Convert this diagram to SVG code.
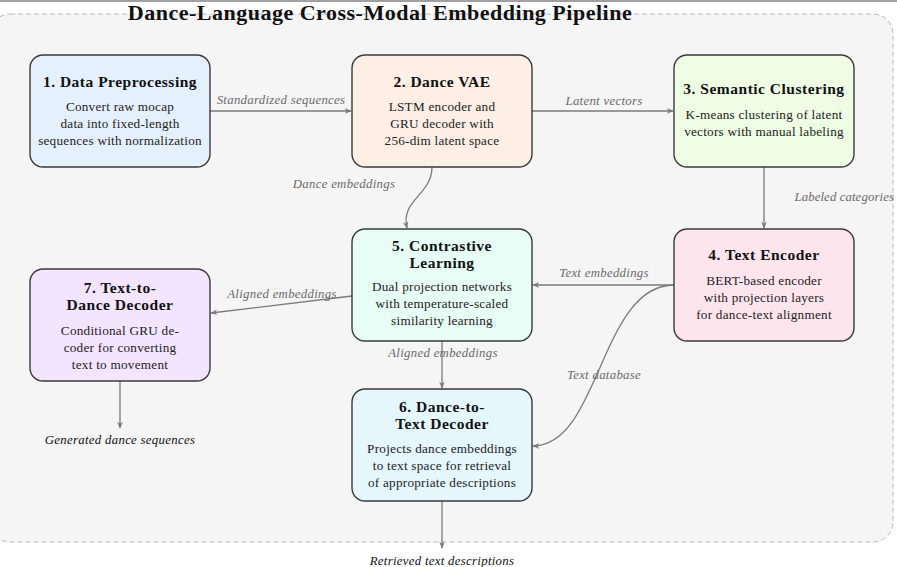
<svg xmlns="http://www.w3.org/2000/svg" width="897" height="567" viewBox="0 0 897 567">
<defs>
<marker id="ah" viewBox="0 0 10 10" refX="9" refY="5" markerWidth="7" markerHeight="7" markerUnits="userSpaceOnUse" orient="auto">
<path d="M0,1 L10,5 L0,9 L3,5 Z" fill="#7a7a7a"/>
</marker>
</defs>
<style>
.node rect{stroke:#3a3a3a;stroke-width:1.4}
.t{font-family:"Liberation Serif",serif;font-weight:bold;font-size:15.5px;letter-spacing:0.5px;fill:#111;text-anchor:middle}
.b{font-family:"Liberation Serif",serif;font-size:13.2px;letter-spacing:0.25px;fill:#222;text-anchor:middle}
.e{fill:none;stroke:#7a7a7a;stroke-width:1.3;marker-end:url(#ah)}
.l{font-family:"Liberation Serif",serif;font-style:italic;font-size:12.8px;letter-spacing:0.3px;fill:#6a6a6a}
.o{font-family:"Liberation Serif",serif;font-style:italic;font-size:12.8px;letter-spacing:0.3px;fill:#111;text-anchor:middle}
</style>
<rect x="0" y="0" width="897" height="567" fill="#ffffff"/>
<line x1="0" y1="1" x2="897" y2="1" stroke="#a0a0a0" stroke-width="2"/>
<rect x="-10" y="14" width="903" height="528" rx="20" fill="#f5f5f5" stroke="#b8b8b8" stroke-width="1" stroke-dasharray="5,3"/>
<text x="380" y="20" font-family="Liberation Serif,serif" font-weight="bold" font-size="22px" letter-spacing="0.5px" text-anchor="middle" fill="#111">Dance-Language Cross-Modal Embedding Pipeline</text>

<g id="connectors">
<path class="e" d="M210,111 L351,111"/>
<text class="l" x="281" y="104" text-anchor="middle">Standardized sequences</text>
<path class="e" d="M532,111 L673,111"/>
<text class="l" x="604" y="105" text-anchor="middle">Latent vectors</text>
<path class="e" d="M764,167 L764,228"/>
<text class="l" x="894" y="201" text-anchor="end" style="letter-spacing:0.1px">Labeled categories</text>
<path class="e" d="M432,167 C432,195 400,200 407,228"/>
<text class="l" x="344" y="188" text-anchor="middle">Dance embeddings</text>
<path class="e" d="M674,285 L533,285"/>
<text class="l" x="604" y="277" text-anchor="middle">Text embeddings</text>
<path class="e" d="M674,285 C600,285 600,446 533,446"/>
<text class="l" x="604" y="379" text-anchor="middle">Text database</text>
<path class="e" d="M442,341 L442,388"/>
<text class="l" x="443" y="357" text-anchor="middle">Aligned embeddings</text>
<path class="e" d="M352,296 L211,313"/>
<text class="l" x="282" y="298" text-anchor="middle">Aligned embeddings</text>
<path class="e" d="M120,381 L120,428"/>
<text class="o" x="120" y="444">Generated dance sequences</text>
<path class="e" d="M442,501 L442,548"/>
<text class="o" x="442" y="565">Retrieved text descriptions</text>
</g>

<g id="node1" class="node">
<rect x="30" y="55" width="180" height="112" rx="13" fill="#e5f0fd"/>
<text class="t" x="120" y="87">1. Data Preprocessing</text>
<text class="b" x="120" y="111">Convert raw mocap</text>
<text class="b" x="120" y="128">data into fixed-length</text>
<text class="b" x="120" y="145">sequences with normalization</text>
</g>
<g id="node2" class="node">
<rect x="352" y="55" width="180" height="112" rx="13" fill="#fdefe5"/>
<text class="t" x="442" y="87">2. Dance VAE</text>
<text class="b" x="442" y="111">LSTM encoder and</text>
<text class="b" x="442" y="128">GRU decoder with</text>
<text class="b" x="442" y="145">256-dim latent space</text>
</g>
<g id="node3" class="node">
<rect x="674" y="55" width="180" height="112" rx="13" fill="#effde5"/>
<text class="t" x="764" y="94">3. Semantic Clustering</text>
<text class="b" x="764" y="119">K-means clustering of latent</text>
<text class="b" x="764" y="136">vectors with manual labeling</text>
</g>
<g id="node4" class="node">
<rect x="674" y="229" width="180" height="112" rx="13" fill="#fde5ee"/>
<text class="t" x="764" y="260">4. Text Encoder</text>
<text class="b" x="764" y="285">BERT-based encoder</text>
<text class="b" x="764" y="302">with projection layers</text>
<text class="b" x="764" y="319">for dance-text alignment</text>
</g>
<g id="node5" class="node">
<rect x="352" y="229" width="180" height="112" rx="13" fill="#e8fdf5"/>
<text class="t" x="442" y="251">5. Contrastive</text>
<text class="t" x="442" y="268">Learning</text>
<text class="b" x="442" y="291">Dual projection networks</text>
<text class="b" x="442" y="308">with temperature-scaled</text>
<text class="b" x="442" y="325">similarity learning</text>
</g>
<g id="node6" class="node">
<rect x="352" y="389" width="180" height="112" rx="13" fill="#e5f6fd"/>
<text class="t" x="442" y="412">6. Dance-to-</text>
<text class="t" x="442" y="429">Text Decoder</text>
<text class="b" x="442" y="453">Projects dance embeddings</text>
<text class="b" x="442" y="470">to text space for retrieval</text>
<text class="b" x="442" y="487">of appropriate descriptions</text>
</g>
<g id="node7" class="node">
<rect x="30" y="269" width="180" height="112" rx="13" fill="#f3e5fd"/>
<text class="t" x="120" y="293">7. Text-to-</text>
<text class="t" x="120" y="310">Dance Decoder</text>
<text class="b" x="120" y="335">Conditional GRU de-</text>
<text class="b" x="120" y="352">coder for converting</text>
<text class="b" x="120" y="369">text to movement</text>
</g>
</svg>
